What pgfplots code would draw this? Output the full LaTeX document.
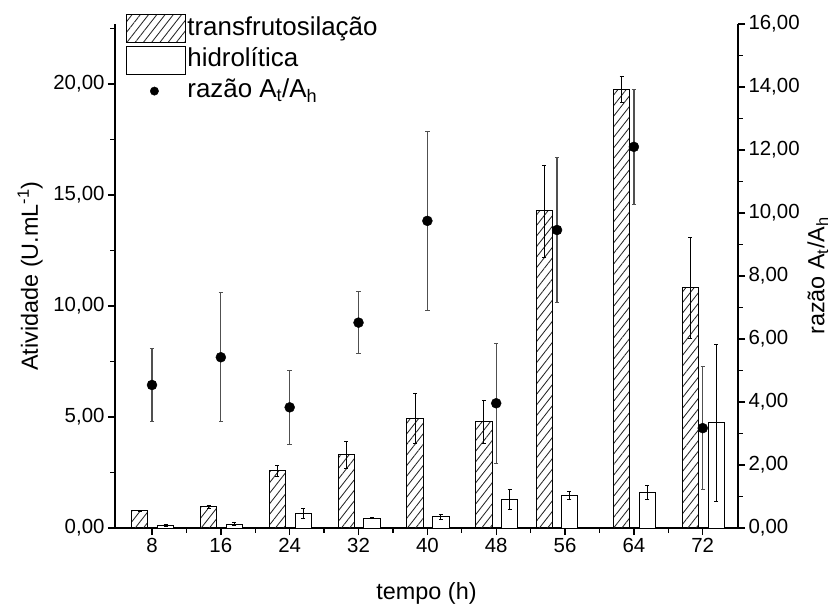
\documentclass[border=0pt]{standalone}
\usepackage{fontspec}
\setmainfont{Liberation Sans}
\usepackage{pgfplots}
\pgfplotsset{compat=1.18}
\usetikzlibrary{patterns.meta}
\definecolor{errgray}{RGB}{80,80,80}
\pgfplotsset{
  boxlegend/.style={legend image code/.code={\draw[##1] (0bp,-14bp) rectangle (59bp,14bp);}},
  dotlegend/.style={legend image code/.code={\fill[black] (28bp,0bp) circle (4.2bp);}},
}
\pgfplotstableread{
x y e
6.57 0.78 0.03
14.57 0.95 0.08
22.57 2.57 0.25
30.57 3.29 0.62
38.57 4.94 1.14
46.57 4.79 0.97
53.60 14.28 2.07
62.57 19.76 0.59
70.57 10.81 2.27
}\transf
\pgfplotstableread{
x y e
9.57 0.12 0.05
17.57 0.17 0.06
25.57 0.66 0.23
33.57 0.44 0.03
41.57 0.50 0.12
49.57 1.29 0.47
56.50 1.47 0.17
65.57 1.59 0.32
73.57 4.73 3.54
}\hidro
\pgfplotstableread{
x y e
8 4.54 1.17
16 5.42 2.05
24 3.83 1.18
32 6.52 0.99
40 9.75 2.85
48 3.96 1.90
55.07 9.46 2.31
64 12.10 1.82
72 3.17 1.95
}\ratio
\begin{document}
\begin{tikzpicture}
\path[use as bounding box] (-115bp,-78bp) rectangle (724bp,528bp);
\pgfplotsset{
  common/.style={
    width=623bp, height=504bp, scale only axis,
    xmin=3.7, xmax=76.1,
    axis line style={line width=1.4bp},
    every tick/.style={black, line width=1.4bp},
    tick align=outside,
    major tick length=7bp, minor tick length=4.5bp,
    /pgf/number format/assume math mode=true,
    tick label style={font=\fontsize{20.5}{24}\selectfont},
    label style={font=\fontsize{23.5}{28}\selectfont},
  }
}
\begin{axis}[common,
  ymin=0, ymax=22.7,
  axis x line*=bottom, axis y line*=left,
  xtick={8,16,...,72}, minor xtick={12,20,...,68},
  ytick={0,5,...,20}, minor ytick={2.5,7.5,...,22.5},
  y tick label style={/pgf/number format/.cd, fixed, fixed zerofill, precision=2, use comma},
  xlabel={tempo (h)},
  xlabel style={at={(axis description cs:0.5,-0.129)}, anchor=center},
  ylabel={Atividade (U.mL\textsuperscript{-1})},
  ylabel style={at={(axis description cs:-0.136,0.5)}, anchor=center},
]
\addplot[ybar, bar shift=0pt, bar width=16.3bp, draw=black, line width=1bp,
  pattern={Lines[angle=52, distance=6.5bp, line width=0.85bp]}, pattern color=black!85,
  error bars/.cd, y dir=both, y explicit,
  error bar style={black, line width=0.8bp},
  error mark options={rotate=90, mark size=2bp, black, line width=0.8bp}]
  table[x=x, y=y, y error=e] {\transf};
\addplot[ybar, bar shift=0pt, bar width=16.3bp, draw=black, line width=1bp, fill=white,
  error bars/.cd, y dir=both, y explicit,
  error bar style={black, line width=0.8bp},
  error mark options={rotate=90, mark size=2bp, black, line width=0.8bp}]
  table[x=x, y=y, y error=e] {\hidro};
\end{axis}
\begin{axis}[common,
  ymin=0, ymax=16,
  axis x line=none, axis y line*=right,
  ytick={0,2,...,16}, minor ytick={1,3,...,15},
  y tick label style={/pgf/number format/.cd, fixed, fixed zerofill, precision=2, use comma},
  ylabel={razão A\textsubscript{t}/A\textsubscript{h}},
  ylabel style={at={(axis description cs:1.128,0.5)}, anchor=center},
  legend style={at={(axis description cs:0.0124,1.024)}, anchor=north west,
    draw=none, fill=none, row sep=2.5bp,
    nodes={inner sep=1.5bp, text height=19bp, text depth=6bp},
    font=\fontsize{26}{30}\selectfont},
  legend cell align=left,
]
\addlegendimage{boxlegend, draw=black, line width=1bp,
  pattern={Lines[angle=52, distance=6.5bp, line width=0.85bp]}, pattern color=black!85}
\addlegendentry{transfrutosilação}
\addlegendimage{boxlegend, draw=black, line width=1bp, fill=white}
\addlegendentry{hidrolítica}
\addplot[only marks, mark=*, mark size=5bp, black, dotlegend,
  error bars/.cd, y dir=both, y explicit,
  error bar style={errgray, line width=1.3bp},
  error mark options={rotate=90, mark size=2.2bp, errgray, line width=1bp}]
  table[x=x, y=y, y error=e] {\ratio};
\addlegendentry{razão A\textsubscript{t}/A\textsubscript{h}}
\end{axis}
\end{tikzpicture}
\end{document}
